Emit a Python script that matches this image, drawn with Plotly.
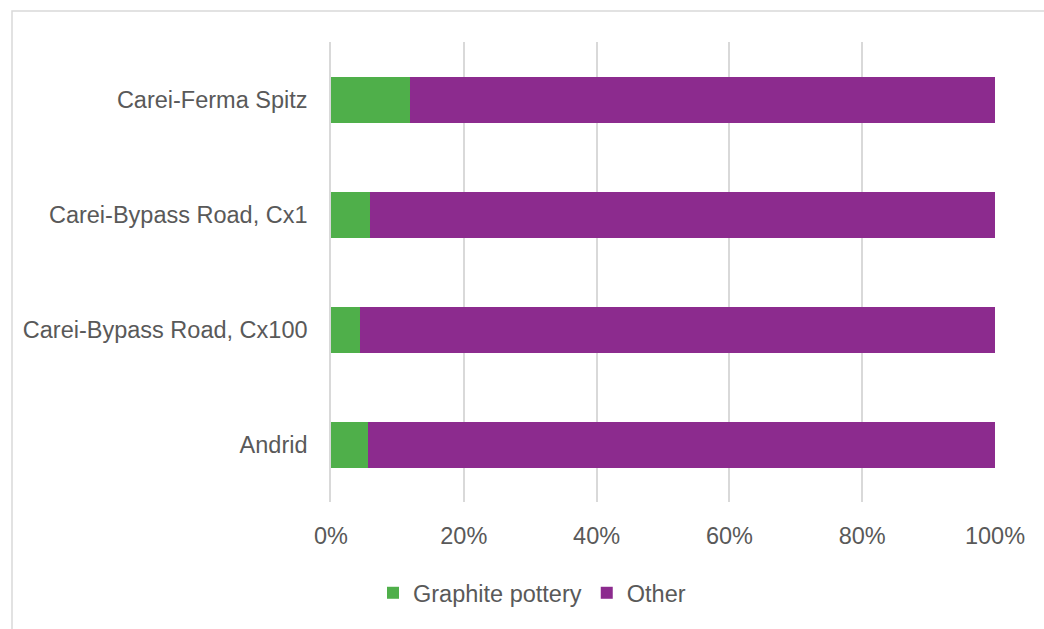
import plotly.graph_objects as go

# Sites, listed top to bottom
sites = [
    "Carei-Ferma Spitz",
    "Carei-Bypass Road, Cx1",
    "Carei-Bypass Road, Cx100",
    "Andrid",
]
# Share of sherds per site (%)
graphite_pct = [11.9, 5.8, 4.3, 5.5]
other_pct = [88.1, 94.2, 95.7, 94.5]

x_ticks = [0, 20, 40, 60, 80, 100]
x_tick_text = ["0%", "20%", "40%", "60%", "80%", "100%"]

GREEN = "#4FAF4A"
PURPLE = "#8C2B8E"
TEXT = "#595959"
GRID = "#D9D9D9"
FONT = "Liberation Sans, Arial, sans-serif"
FS = 23.5

fig = go.Figure()
fig.add_trace(go.Bar(
    y=sites, x=graphite_pct, orientation="h", name="Graphite pottery",
    marker=dict(color=GREEN, line=dict(width=0)),
))
fig.add_trace(go.Bar(
    y=sites, x=other_pct, orientation="h", name="Other",
    marker=dict(color=PURPLE, line=dict(width=0)),
))

W, H = 1044, 629
L, R, T, B = 331, 49, 42, 127
pw, ph = W - L - R, H - T - B

fig.update_layout(
    width=W, height=H,
    barmode="stack", bargap=0.6,
    margin=dict(l=L, r=R, t=T, b=B, pad=0, autoexpand=False),
    paper_bgcolor="white", plot_bgcolor="white",
    font=dict(family=FONT, size=FS, color=TEXT),
    xaxis=dict(
        range=[0, 100], tickmode="array", tickvals=x_ticks, ticktext=x_tick_text,
        showgrid=True, gridcolor=GRID, gridwidth=1.5,
        zeroline=False, showline=False, ticks="",
        ticklabelstandoff=17, automargin=False,
        tickfont=dict(size=FS, color=TEXT),
    ),
    yaxis=dict(
        autorange="reversed", showgrid=False, zeroline=False,
        showline=True, linecolor=GRID, linewidth=1.5,
        ticks="", ticklabelstandoff=17, automargin=False,
        tickfont=dict(size=FS, color=TEXT),
    ),
    legend=dict(
        orientation="h", xanchor="left", yanchor="middle",
        x=(373 - L) / pw, y=(T + ph - 593) / ph,
        font=dict(size=FS, color=TEXT),
        bgcolor="rgba(0,0,0,0)", itemwidth=30,
        traceorder="normal",
    ),
    showlegend=True,
    shapes=[dict(
        type="rect", xref="paper", yref="paper",
        x0=(12 - L) / pw, x1=2.0,
        y0=-2.0, y1=1 + (T - 11) / ph,
        line=dict(color=GRID, width=1.5), layer="below",
    )],
)

fig.write_html("out.html")
